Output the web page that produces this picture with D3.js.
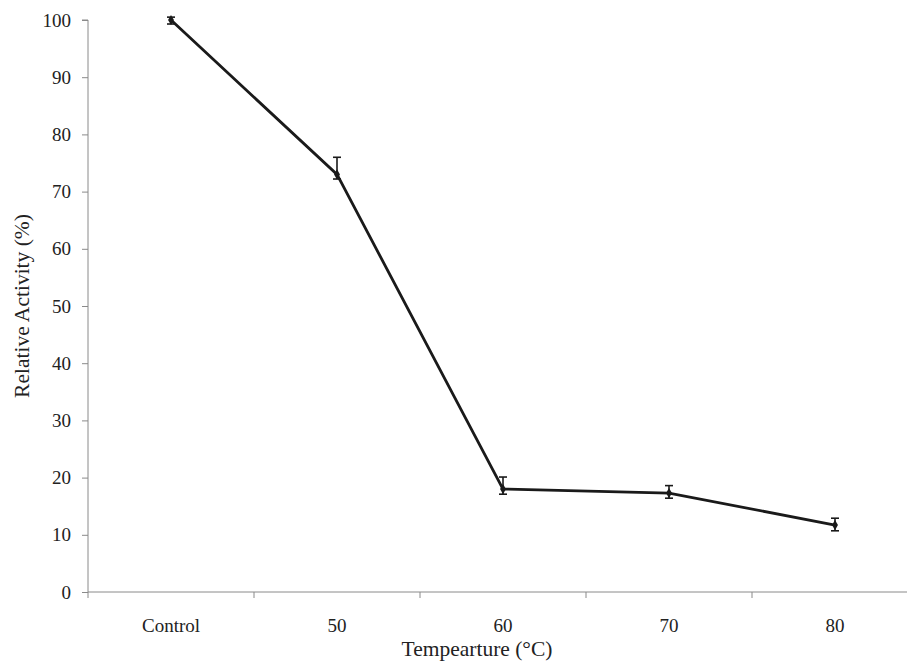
<!DOCTYPE html>
<html><head><meta charset="utf-8">
<script src="https://cdn.jsdelivr.net/npm/d3@7"></script>
<style>body{margin:0;background:#fff}svg{display:block}text{font-family:"Liberation Serif","Times New Roman",serif;fill:#222}</style>
</head><body><svg id="c" width="907" height="664"></svg>
<script>
const categories = ["Control", "50", "60", "70", "80"];
const values = [100, 73, 18, 17.3, 11.7];
const errLow = [99.3, 72.2, 17.1, 16.4, 10.7];
const errHigh = [100.5, 76, 20.1, 18.6, 12.9];
const yTicks = [0, 10, 20, 30, 40, 50, 60, 70, 80, 90, 100];

(function () {
const svg = d3.select("#c");
const mL = 88, mR = 918, mT = 20, mB = 592;
const x = d3.scaleBand().domain(categories).range([mL, mR]);
const y = d3.scaleLinear().domain([0, 100]).range([mB, mT]);
const axisColor = "#8a8a8a";

// y axis
const ya = svg.append("g").attr("transform", `translate(${mL},0)`)
  .call(d3.axisLeft(y).tickValues(yTicks).tickSize(6).tickPadding(11));
ya.select(".domain").attr("stroke", axisColor).attr("d", `M-6,${mT}H0V${mB}`);
ya.selectAll(".tick line").attr("stroke", axisColor);
ya.selectAll(".tick text").attr("font-size", 19).attr("fill", "#222").attr("font-family", '"Liberation Serif",serif');

// x axis
const xa = svg.append("g").attr("transform", `translate(0,${mB})`)
  .call(d3.axisBottom(x).tickSize(0).tickPadding(27));
xa.select(".domain").attr("stroke", axisColor).attr("d", `M${mL},0H${mR}`);
xa.selectAll(".tick text").attr("font-size", 19).attr("fill", "#222").attr("font-family", '"Liberation Serif",serif');
const bounds = categories.map(c => x(c)).concat([mR]);
svg.append("g").selectAll("line").data(bounds).join("line")
  .attr("x1", d => d).attr("x2", d => d).attr("y1", mB).attr("y2", mB + 6)
  .attr("stroke", axisColor);

const cx = c => x(c) + x.bandwidth() / 2;
const pts = categories.map((c, i) => ({c, v: values[i], lo: errLow[i], hi: errHigh[i]}));

// line
svg.append("path").datum(pts)
  .attr("d", d3.line().x(d => cx(d.c)).y(d => y(d.v)))
  .attr("fill", "none").attr("stroke", "#1a1a1a").attr("stroke-width", 2.8);

// error bars
const eb = svg.append("g").attr("stroke", "#1a1a1a").attr("stroke-width", 1.6);
eb.selectAll(".v").data(pts).join("line").attr("class", "v")
  .attr("x1", d => cx(d.c)).attr("x2", d => cx(d.c)).attr("y1", d => y(d.lo)).attr("y2", d => y(d.hi));
eb.selectAll(".t").data(pts).join("line").attr("class", "t")
  .attr("x1", d => cx(d.c) - 4).attr("x2", d => cx(d.c) + 4).attr("y1", d => y(d.hi)).attr("y2", d => y(d.hi));
eb.selectAll(".b").data(pts).join("line").attr("class", "b")
  .attr("x1", d => cx(d.c) - 4).attr("x2", d => cx(d.c) + 4).attr("y1", d => y(d.lo)).attr("y2", d => y(d.lo));

// markers
svg.append("g").selectAll("path").data(pts).join("path")
  .attr("transform", d => `translate(${cx(d.c)},${y(d.v)})`)
  .attr("d", d3.symbol(d3.symbolDiamond, 30)).attr("fill", "#1a1a1a");

// titles
svg.append("text").attr("x", 477).attr("y", 656).attr("text-anchor", "middle")
  .attr("font-size", 21.5).text("Tempearture (°C)");
svg.append("text").attr("transform", `translate(29,${(mT + mB) / 2}) rotate(-90)`)
  .attr("text-anchor", "middle").attr("font-size", 21.5).text("Relative Activity (%)");
})();
</script></body></html>
